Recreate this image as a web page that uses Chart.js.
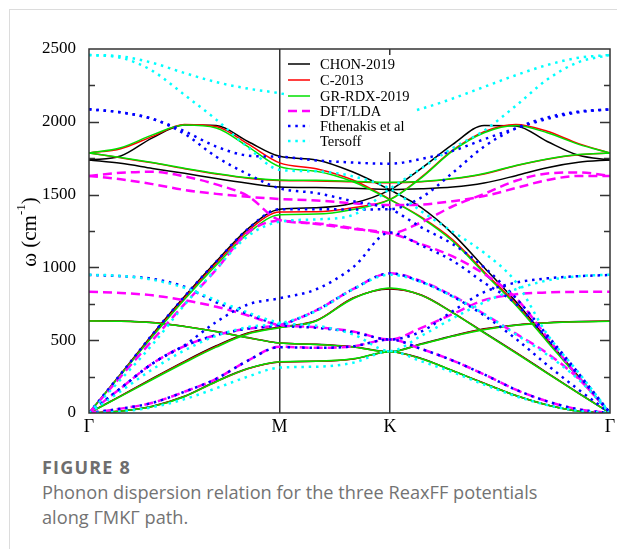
<!DOCTYPE html>
<html>
<head>
<meta charset="utf-8">
<script src="https://cdn.jsdelivr.net/npm/chart.js@4.4.1/dist/chart.umd.min.js"></script>
<style>
  html, body { margin: 0; padding: 0; background: #fff; }
  body { width: 617px; height: 549px; position: relative; overflow: hidden; }
  #box { position: absolute; left: 9px; top: 9px; width: 700px; height: 700px; border: 1px solid #dcdcdc; }
  #plot { position: absolute; left: 0; top: 0; }
  #figNo { position: absolute; left: 42px; top: 455px; font: bold 18px "Open Sans", sans-serif; letter-spacing: 1.2px; color: #6e6e6e; }
  #figText { position: absolute; left: 42px; top: 480px; width: 575px; font: 18.2px/25px "Open Sans", sans-serif; color: #737373; }
</style>
</head>
<body>
<div id="box"></div>
<canvas id="plot" width="617" height="440"></canvas>
<div id="figNo">FIGURE 8</div>
<div id="figText">Phonon dispersion relation for the three ReaxFF potentials<br>along ΓMKΓ path.</div>
<script>
// path coordinate along Γ-M-K-Γ (units of 2π/a)
const qPath = [0, 0.096, 0.192, 0.289, 0.385, 0.481, 0.577, 0.688, 0.799, 0.911,
               1.006, 1.101, 1.196, 1.292, 1.387, 1.482, 1.577];
const xTickPos = [0, 0.577, 0.911, 1.577];
const xTickLabels = ['Γ', 'M', 'K', 'Γ'];
const yTickLabels = ['0', '500', '1000', '1500', '2000', '2500'];
const legendNames = ['CHON-2019', 'C-2013', 'GR-RDX-2019', 'DFT/LDA', 'Fthenakis et al', 'Tersoff'];

// branches per model, frequencies in cm-1
const chon2019 = [
  [1738, 1765, 1890, 1978, 1975, 1865, 1763, 1738, 1655, 1532, 1410, 1230, 1000, 765, 505, 250, 0],
  [0, 268, 540, 800, 1040, 1265, 1400, 1410, 1440, 1532, 1680, 1845, 1975, 1972, 1865, 1770, 1738],
  [1738, 1715, 1680, 1646, 1610, 1578, 1552, 1548, 1543, 1535, 1540, 1552, 1580, 1630, 1685, 1722, 1738],
  [0, 118, 238, 355, 462, 550, 590, 635, 790, 852, 810, 690, 553, 416, 276, 136, 0],
  [634, 632, 622, 595, 560, 518, 481, 472, 455, 421, 475, 530, 578, 605, 620, 628, 632],
  [0, 14, 47, 115, 218, 305, 350, 355, 370, 421, 375, 290, 205, 120, 55, 12, 0]
];
const c2013 = [
  [1786, 1815, 1900, 1982, 1968, 1848, 1718, 1678, 1600, 1467, 1345, 1190, 970, 750, 495, 245, 0],
  [0, 265, 532, 790, 1028, 1250, 1380, 1382, 1410, 1467, 1620, 1805, 1932, 1982, 1935, 1850, 1786],
  [1786, 1753, 1718, 1678, 1642, 1612, 1596, 1594, 1588, 1582, 1588, 1608, 1642, 1698, 1743, 1773, 1786],
  [0, 116, 234, 350, 457, 546, 588, 634, 788, 855, 809, 689, 551, 414, 274, 135, 0],
  [633, 631, 621, 594, 559, 517, 480, 471, 454, 420, 473, 528, 575, 603, 619, 627, 631],
  [0, 13, 45, 113, 215, 304, 351, 355, 371, 420, 373, 290, 204, 120, 55, 12, 0]
];
const grRdx2019 = [
  [1786, 1822, 1910, 1978, 1958, 1830, 1692, 1660, 1588, 1465, 1340, 1180, 960, 740, 490, 240, 0],
  [0, 262, 525, 780, 1015, 1232, 1362, 1366, 1398, 1465, 1615, 1800, 1925, 1975, 1925, 1845, 1786],
  [1786, 1755, 1720, 1681, 1645, 1615, 1600, 1598, 1592, 1585, 1590, 1610, 1645, 1700, 1745, 1775, 1786],
  [0, 114, 230, 345, 452, 542, 586, 632, 785, 858, 808, 688, 550, 412, 272, 134, 0],
  [632, 630, 620, 594, 558, 516, 480, 471, 453, 420, 472, 527, 572, 602, 618, 627, 630],
  [0, 12, 44, 112, 215, 305, 352, 356, 372, 420, 372, 290, 203, 120, 55, 12, 0]
];
const dftLda = [
  [1628, 1605, 1572, 1532, 1505, 1485, 1470, 1460, 1440, 1428, 1432, 1455, 1490, 1545, 1600, 1628, 1628],
  [1628, 1650, 1657, 1625, 1570, 1490, 1325, 1302, 1270, 1234, 1310, 1420, 1505, 1595, 1645, 1652, 1628],
  [0, 250, 500, 748, 985, 1240, 1320, 1298, 1265, 1234, 1160, 1075, 955, 790, 520, 245, 0],
  [0, 170, 340, 460, 535, 580, 605, 705, 850, 959, 905, 805, 680, 545, 410, 235, 0],
  [833, 825, 808, 775, 730, 670, 604, 590, 560, 505, 585, 680, 775, 815, 828, 832, 833],
  [0, 30, 70, 146, 235, 360, 455, 448, 458, 505, 440, 360, 265, 160, 80, 25, 0]
];
const fthenakis = [
  [2086, 2065, 2020, 1935, 1830, 1768, 1760, 1735, 1720, 1712, 1745, 1800, 1880, 1955, 2020, 2065, 2086],
  [2086, 2065, 2020, 1918, 1760, 1640, 1543, 1510, 1455, 1400, 1275, 1160, 1000, 790, 535, 272, 0],
  [0, 268, 540, 800, 1040, 1265, 1400, 1400, 1398, 1400, 1480, 1650, 1830, 1955, 2030, 2070, 2086],
  [0, 170, 340, 465, 625, 745, 788, 850, 1000, 1240, 1150, 1045, 895, 750, 510, 258, 0],
  [0, 170, 340, 460, 535, 580, 605, 705, 850, 959, 900, 800, 670, 510, 330, 160, 0],
  [948, 940, 922, 867, 760, 680, 605, 585, 555, 505, 560, 700, 830, 895, 925, 940, 948],
  [0, 30, 70, 146, 235, 360, 452, 448, 458, 505, 440, 360, 265, 160, 80, 25, 0]
];
const tersoff = [
  [2459, 2450, 2405, 2335, 2273, 2228, 2196, 2140, 2075, 2040, 2090, 2160, 2240, 2320, 2390, 2440, 2459],
  [2459, 2440, 2350, 2185, 2015, 1825, 1670, 1660, 1625, 1540, 1385, 1245, 1100, 900, 540, 277, 0],
  [0, 230, 470, 742, 990, 1215, 1314, 1330, 1360, 1540, 1680, 1820, 1940, 2110, 2290, 2410, 2459],
  [0, 150, 300, 430, 530, 590, 615, 700, 850, 950, 900, 800, 680, 540, 400, 230, 0],
  [950, 942, 915, 860, 775, 690, 620, 600, 540, 425, 530, 650, 760, 850, 910, 940, 950],
  [0, 10, 40, 95, 170, 250, 312, 318, 345, 425, 355, 280, 195, 115, 55, 15, 0]
];

const models = [chon2019, c2013, grRdx2019, dftLda, fthenakis, tersoff];
const styles = [
  { color: '#000000', width: 1.5, dash: [] },
  { color: '#ff0000', width: 1.5, dash: [] },
  { color: '#00e000', width: 1.5, dash: [] },
  { color: '#ff00ff', width: 2.5, dash: [9, 5] },
  { color: '#0000ff', width: 2.5, dash: [2.5, 4.8] },
  { color: '#00ffff', width: 2.5, dash: [2.5, 4.8] }
];
const serif = '"Liberation Serif", "Times New Roman", serif';
Chart.defaults.font.family = serif;

const datasets = [];
models.forEach(function(branches, m) {
  branches.forEach(function(vals) {
    datasets.push({
      label: legendNames[m],
      data: vals.map(function(v, i) { return { x: qPath[i], y: v }; }),
      borderColor: styles[m].color,
      borderWidth: styles[m].width,
      borderDash: styles[m].dash,
      borderCapStyle: 'butt',
      pointRadius: 0,
      fill: false,
      cubicInterpolationMode: 'monotone',
      order: 6 - m
    });
  });
});

// frame, inward ticks, legend box and y title
const decorations = {
  id: 'decorations',
  afterDatasetsDraw: function(chart) {
    const c = chart.ctx;
    const a = chart.chartArea;
    const ys = chart.scales.y;
    c.save();
    c.strokeStyle = '#333';
    c.lineWidth = 1.5;
    c.strokeRect(a.left, a.top, a.right - a.left, a.bottom - a.top);
    for (let v = 250; v < 2500; v += 250) {
      const py = Math.round(ys.getPixelForValue(v)) + 0.5;
      const len = v % 500 === 0 ? 10 : 6;
      c.beginPath();
      c.moveTo(a.left, py); c.lineTo(a.left + len, py);
      c.moveTo(a.right, py); c.lineTo(a.right - len, py);
      c.stroke();
    }
    // legend
    const lx = 284, ly = 55;
    c.fillStyle = '#fff';
    c.fillRect(lx, ly, 130, 97);
    c.font = '14.5px ' + serif;
    c.textBaseline = 'middle';
    const rowY = [64, 80, 96, 111, 126, 141];
    legendNames.forEach(function(name, i) {
      c.strokeStyle = styles[i].color;
      c.lineWidth = styles[i].width;
      c.setLineDash(styles[i].dash);
      c.beginPath();
      c.moveTo(288, rowY[i]); c.lineTo(310, rowY[i]);
      c.stroke();
      c.setLineDash([]);
      c.fillStyle = '#000';
      c.fillText(name, 320, rowY[i] + 1);
    });
    c.restore();
  },
  afterDraw: function(chart) {
    const c = chart.ctx;
    c.save();
    c.translate(30, 232);
    c.rotate(-Math.PI / 2);
    c.fillStyle = '#000';
    c.textBaseline = 'middle';
    const big = '21px ' + serif, small = '13px ' + serif;
    c.font = big;
    const w1 = c.measureText('ω (cm').width;
    const w3 = c.measureText(')').width;
    c.font = small;
    const w2 = c.measureText('-1').width;
    let x = -(w1 + w2 + w3) / 2;
    c.font = big; c.fillText('ω (cm', x, 0); x += w1;
    c.font = small; c.fillText('-1', x, -8); x += w2;
    c.font = big; c.fillText(')', x, 0);
    c.restore();
  }
};

new Chart(document.getElementById('plot'), {
  type: 'line',
  data: { datasets: datasets },
  options: {
    responsive: false,
    animation: false,
    layout: { padding: { left: 0, top: 49, right: 7, bottom: 0 } },
    plugins: { legend: { display: false }, tooltip: { enabled: false } },
    scales: {
      x: {
        type: 'linear',
        min: 0,
        max: qPath[qPath.length - 1],
        afterBuildTicks: function(s) { s.ticks = xTickPos.map(function(v) { return { value: v }; }); },
        afterFit: function(s) { s.height = 27; s.paddingLeft = 0; s.paddingRight = 0; },
        ticks: {
          autoSkip: false, maxRotation: 0, padding: 3,
          color: '#000', font: { family: serif, size: 18 },
          callback: function(v, i) { return xTickLabels[i]; }
        },
        border: { display: false },
        grid: {
          drawTicks: false,
          lineWidth: 1.5,
          color: function(ctx) { return (ctx.index === 1 || ctx.index === 2) ? '#333' : 'rgba(0,0,0,0)'; }
        }
      },
      y: {
        min: 0,
        max: 2500,
        afterFit: function(s) { s.width = 89; },
        ticks: {
          stepSize: 500, padding: 5, color: '#000', font: { family: serif, size: 17 },
          callback: function(v, i) { return yTickLabels[i]; }
        },
        border: { display: false },
        grid: { display: false }
      }
    }
  },
  plugins: [decorations]
});
</script>
</body>
</html>
